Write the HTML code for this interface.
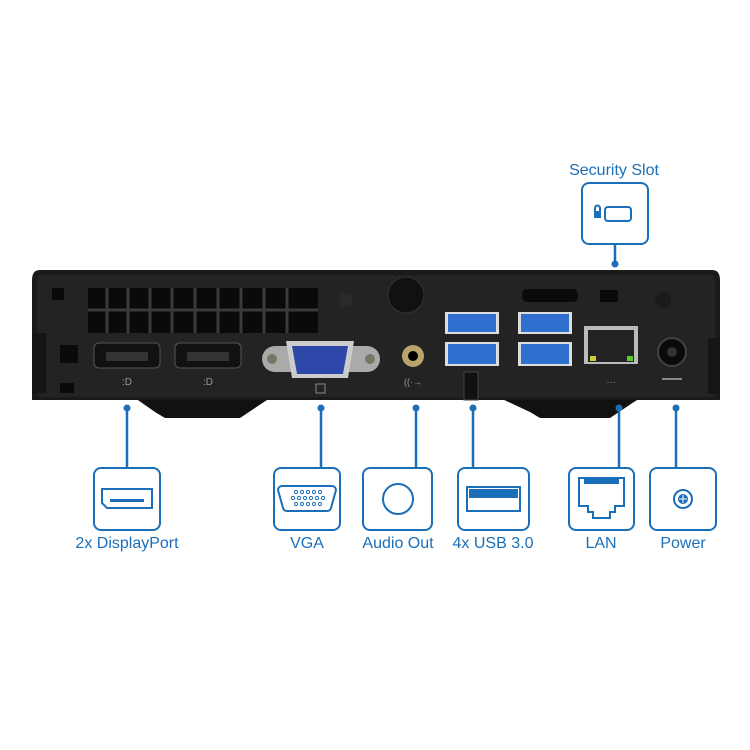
<!DOCTYPE html>
<html><head><style>
body{margin:0;background:#fff;}
svg{display:block;font-family:"Liberation Sans",sans-serif;}
.lbl{fill:#1b6fb8;font-size:16px;text-anchor:middle;}
.bx{fill:#fff;stroke:#1b6fb8;stroke-width:2;}
.ln{stroke:#1b6fb8;stroke-width:2.5;}
.ic{fill:none;stroke:#1b6fb8;stroke-width:2;}
</style></head><body>
<svg width="750" height="750" viewBox="0 0 750 750">
<!-- feet -->
<path d="M135 398 L155 412 L165 418 L240 418 L270 398 Z" fill="#111"/>
<path d="M500 398 L530 412 L540 418 L610 418 L640 398 Z" fill="#111"/>
<!-- body -->
<path d="M40 270 L712 270 Q720 270 720 280 L720 400 L32 400 L32 280 Q32 270 40 270 Z" fill="#1a1a1a"/>
<rect x="37" y="275" width="678" height="122" rx="4" fill="#232323"/>
<rect x="32" y="333" width="14" height="60" fill="#151515"/>
<rect x="708" y="338" width="12" height="56" fill="#151515"/>
<!-- grille -->
<rect x="88" y="288" width="230" height="45" fill="#0a0a0a"/>
<g stroke="#3a3a3a" stroke-width="3">
<line x1="88" y1="310" x2="318" y2="310"/>
<line x1="107" y1="288" x2="107" y2="333"/><line x1="128" y1="288" x2="128" y2="333"/>
<line x1="150" y1="288" x2="150" y2="333"/><line x1="172" y1="288" x2="172" y2="333"/>
<line x1="195" y1="288" x2="195" y2="333"/><line x1="218" y1="288" x2="218" y2="333"/>
<line x1="241" y1="288" x2="241" y2="333"/><line x1="264" y1="288" x2="264" y2="333"/>
<line x1="287" y1="288" x2="287" y2="333"/>
</g>
<rect x="52" y="288" width="12" height="12" fill="#0a0a0a"/>
<rect x="60" y="345" width="18" height="18" fill="#0a0a0a"/>
<rect x="60" y="383" width="14" height="10" fill="#0a0a0a"/>
<!-- DP ports -->
<rect x="94" y="343" width="66" height="25" rx="5" fill="#111" stroke="#555"/>
<rect x="106" y="352" width="42" height="9" fill="#333"/>
<rect x="175" y="343" width="66" height="25" rx="5" fill="#111" stroke="#555"/>
<rect x="187" y="352" width="42" height="9" fill="#333"/>
<text x="127" y="385" fill="#999" font-size="10" text-anchor="middle">:D</text>
<text x="208" y="385" fill="#999" font-size="10" text-anchor="middle">:D</text>
<!-- VGA -->
<rect x="262" y="346" width="118" height="26" rx="13" fill="#aaa"/>
<path d="M286 341 L354 341 L348 378 L292 378 Z" fill="#ccc"/>
<path d="M292 346 L348 346 L343 374 L297 374 Z" fill="#2d48a8"/>
<circle cx="272" cy="359" r="5" fill="#776"/><circle cx="370" cy="359" r="5" fill="#776"/>
<rect x="316" y="384" width="9" height="9" fill="none" stroke="#888"/>
<!-- screw knob -->
<circle cx="406" cy="295" r="18" fill="#111" stroke="#333"/>
<circle cx="346" cy="300" r="7" fill="#2a2a2a"/>
<!-- audio -->
<circle cx="413" cy="356" r="11" fill="#b8a56a"/><circle cx="413" cy="356" r="5" fill="#000"/>
<text x="413" y="385" fill="#999" font-size="9" text-anchor="middle">((·→</text>
<!-- USB -->
<rect x="445" y="312" width="54" height="22" fill="#ddd"/><rect x="448" y="314" width="48" height="18" fill="#2f6fd0"/>
<rect x="518" y="312" width="54" height="22" fill="#ddd"/><rect x="521" y="314" width="48" height="18" fill="#2f6fd0"/>
<rect x="445" y="342" width="54" height="24" fill="#ddd"/><rect x="448" y="344" width="48" height="20" fill="#2f6fd0"/>
<rect x="518" y="342" width="54" height="24" fill="#ddd"/><rect x="521" y="344" width="48" height="20" fill="#2f6fd0"/>
<rect x="464" y="372" width="14" height="28" fill="#111" stroke="#444"/>
<rect x="522" y="289" width="56" height="13" rx="5" fill="#0a0a0a"/>
<rect x="600" y="290" width="18" height="12" fill="#0a0a0a"/>
<!-- LAN -->
<rect x="584" y="326" width="54" height="38" fill="#bbb"/>
<rect x="588" y="330" width="46" height="32" fill="#222"/>
<rect x="590" y="356" width="6" height="5" fill="#cc3"/><rect x="627" y="356" width="6" height="5" fill="#5c3"/>
<text x="611" y="385" fill="#999" font-size="9" text-anchor="middle">⋯</text>
<!-- power -->
<circle cx="672" cy="352" r="14" fill="#0a0a0a" stroke="#444" stroke-width="2"/>
<circle cx="672" cy="352" r="5" fill="#333"/>
<line x1="662" y1="379" x2="682" y2="379" stroke="#888" stroke-width="2"/>
<circle cx="663" cy="300" r="8" fill="#1a1a1a"/>
<!-- security -->
<text class="lbl" x="614" y="175">Security Slot</text>
<rect class="bx" x="582" y="183" width="66" height="61" rx="7"/>
<rect class="ic" x="605" y="207" width="26" height="14" rx="3"/>
<rect x="594" y="211" width="7" height="7" fill="#1b6fb8"/><path d="M595 211 v-3 a2.5 2.5 0 0 1 5 0 v3" class="ic" stroke-width="1.5"/>
<line class="ln" x1="615" y1="244" x2="615" y2="263"/><circle cx="615" cy="264" r="3.5" fill="#1b6fb8"/>
<!-- connectors -->
<g>
<line class="ln" x1="127" y1="408" x2="127" y2="468"/><circle cx="127" cy="408" r="3.5" fill="#1b6fb8"/>
<line class="ln" x1="321" y1="408" x2="321" y2="468"/><circle cx="321" cy="408" r="3.5" fill="#1b6fb8"/>
<line class="ln" x1="416" y1="408" x2="416" y2="468"/><circle cx="416" cy="408" r="3.5" fill="#1b6fb8"/>
<line class="ln" x1="473" y1="408" x2="473" y2="468"/><circle cx="473" cy="408" r="3.5" fill="#1b6fb8"/>
<line class="ln" x1="619" y1="408" x2="619" y2="468"/><circle cx="619" cy="408" r="3.5" fill="#1b6fb8"/>
<line class="ln" x1="676" y1="408" x2="676" y2="468"/><circle cx="676" cy="408" r="3.5" fill="#1b6fb8"/>
</g>
<!-- boxes -->
<rect class="bx" x="94" y="468" width="66" height="62" rx="7"/>
<path class="ic" d="M102 489 h50 v19 h-45 l-5 -5 z"/><rect x="110" y="499" width="34" height="3" fill="#1b6fb8"/>
<text class="lbl" x="127" y="548">2x DisplayPort</text>

<rect class="bx" x="274" y="468" width="66" height="62" rx="7"/>
<path class="ic" d="M282 486 h50 a4 4 0 0 1 4 4 l-5 18 a4 4 0 0 1 -4 3 h-40 a4 4 0 0 1 -4 -3 l-5 -18 a4 4 0 0 1 4 -4z"/>
<g fill="none" stroke="#1b6fb8" stroke-width="1">
<circle cx="296" cy="492" r="1.6"/><circle cx="302" cy="492" r="1.6"/><circle cx="308" cy="492" r="1.6"/><circle cx="314" cy="492" r="1.6"/><circle cx="320" cy="492" r="1.6"/>
<circle cx="293" cy="498" r="1.6"/><circle cx="299" cy="498" r="1.6"/><circle cx="305" cy="498" r="1.6"/><circle cx="311" cy="498" r="1.6"/><circle cx="317" cy="498" r="1.6"/><circle cx="323" cy="498" r="1.6"/>
<circle cx="296" cy="504" r="1.6"/><circle cx="302" cy="504" r="1.6"/><circle cx="308" cy="504" r="1.6"/><circle cx="314" cy="504" r="1.6"/><circle cx="320" cy="504" r="1.6"/>
</g>
<text class="lbl" x="307" y="548">VGA</text>

<rect class="bx" x="363" y="468" width="69" height="62" rx="7"/>
<circle class="ic" cx="398" cy="499" r="15"/>
<text class="lbl" x="398" y="548">Audio Out</text>

<rect class="bx" x="458" y="468" width="71" height="62" rx="7"/>
<rect class="ic" x="467" y="487" width="53" height="24"/><rect x="469" y="489" width="49" height="9" fill="#1b6fb8"/>
<text class="lbl" x="493" y="548">4x USB 3.0</text>

<rect class="bx" x="569" y="468" width="65" height="62" rx="7"/>
<path class="ic" d="M579 478 h45 v28 h-9 v6 h-5 v6 h-17 v-6 h-5 v-6 h-9 z"/>
<rect x="584" y="478" width="35" height="6" fill="#1b6fb8"/>
<text class="lbl" x="601" y="548">LAN</text>

<rect class="bx" x="650" y="468" width="66" height="62" rx="7"/>
<circle class="ic" cx="683" cy="499" r="9"/><circle cx="683" cy="499" r="5" fill="#1b6fb8"/>
<path d="M683 495 v8 M679 499 h8" stroke="#fff" stroke-width="1"/>
<text class="lbl" x="683" y="548">Power</text>
</svg>
</body></html>
